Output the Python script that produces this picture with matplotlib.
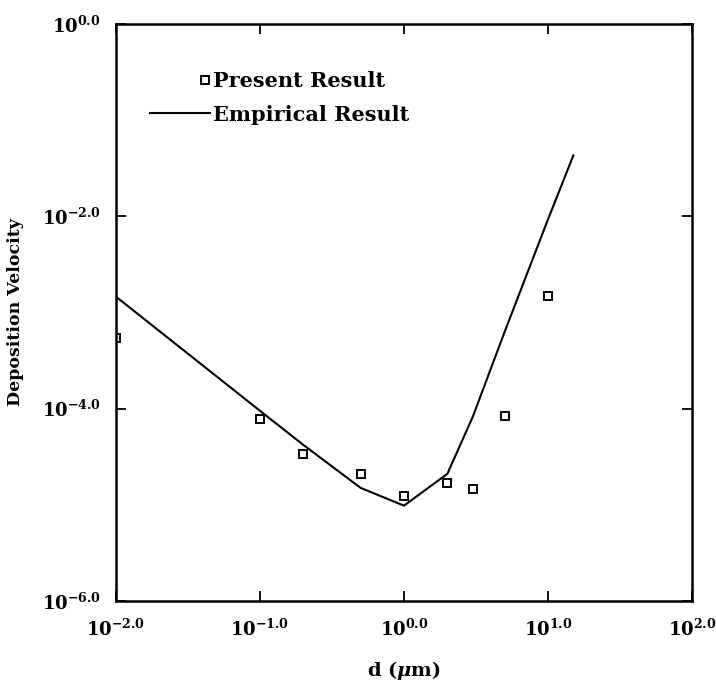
import numpy as np
import matplotlib
matplotlib.use("Agg")
import matplotlib.pyplot as plt
from matplotlib.ticker import FixedLocator, FuncFormatter, NullLocator
from matplotlib.legend_handler import HandlerLine2D

# ---- data ---------------------------------------------------
d_present = [0.01, 0.1, 0.2, 0.5, 1.0, 2.0, 3.0, 5.0, 10.0]
v_present = [5.4e-4, 7.9e-5, 3.4e-5, 2.1e-5, 1.25e-5, 1.67e-5, 1.45e-5, 8.3e-5, 1.5e-3]

d_empirical = [0.01, 0.1, 0.2, 0.5, 1.0, 2.0, 3.0, 5.0, 10.0, 15.0]
v_empirical = [1.46e-3, 9.5e-5, 4.2e-5, 1.5e-5, 9.8e-6, 2.1e-5, 8.2e-5, 6.3e-4, 9.3e-3, 4.3e-2]

x_ticks = [1e-2, 1e-1, 1e0, 1e1, 1e2]
y_ticks = [1e-6, 1e-4, 1e-2, 1e0]

plt.rcParams['font.family'] = ['DejaVu Serif']
plt.rcParams['font.weight'] = 'bold'
plt.rcParams['mathtext.fontset'] = 'dejavuserif'
plt.rcParams['mathtext.default'] = 'bf'


# puts the single marker at the right end of the handle
class RightMarker(HandlerLine2D):
    def get_xdata(self, legend, xdescent, ydescent, width, height, fontsize):
        x = -xdescent + width - 0.25 * fontsize
        return np.array([x, x]), np.array([x])


fig = plt.figure(figsize=(7.16, 6.84), dpi=100)
ax = fig.add_axes([116 / 716, 1 - 601 / 684, 576 / 716, 577 / 684])

pres, = ax.plot(d_present, v_present, linestyle='none', marker='s', markersize=6,
                markerfacecolor='white', markeredgecolor='black', markeredgewidth=1.4)
emp, = ax.plot(d_empirical, v_empirical, color='black', linewidth=1.5)

ax.set_xscale('log')
ax.set_yscale('log')
ax.set_xlim(1e-2, 1e2)
ax.set_ylim(1e-6, 1e0)

fmt = FuncFormatter(lambda v, p: r'$10^{%.1f}$' % np.log10(v))
ax.xaxis.set_major_locator(FixedLocator(x_ticks))
ax.yaxis.set_major_locator(FixedLocator(y_ticks))
ax.xaxis.set_minor_locator(NullLocator())
ax.yaxis.set_minor_locator(NullLocator())
ax.xaxis.set_major_formatter(fmt)
ax.yaxis.set_major_formatter(fmt)

ax.tick_params(which='both', direction='in', top=True, right=True,
               length=7, width=1.3, labelsize=13)
ax.tick_params(axis='x', pad=13)
ax.tick_params(axis='y', pad=11)
for s in ax.spines.values():
    s.set_linewidth(1.8)

ax.set_xlabel(r'd ($\mathit{\mu}$m)', fontsize=14, fontweight='bold')
ax.set_ylabel('Deposition Velocity', fontsize=12.5, fontweight='bold')
ax.xaxis.set_label_coords(0.5, -0.10)
ax.yaxis.set_label_coords(-0.16, 0.5)

ax.legend([pres, emp], ['Present Result', 'Empirical Result'],
          handler_map={pres: RightMarker()},
          loc='upper left', bbox_to_anchor=(34 / 576, 1 - 47 / 577),
          borderaxespad=0, borderpad=0, frameon=False, fontsize=15,
          handlelength=2.88, handletextpad=0.15, labelspacing=0.65)

fig.savefig('out.png', dpi=100)
